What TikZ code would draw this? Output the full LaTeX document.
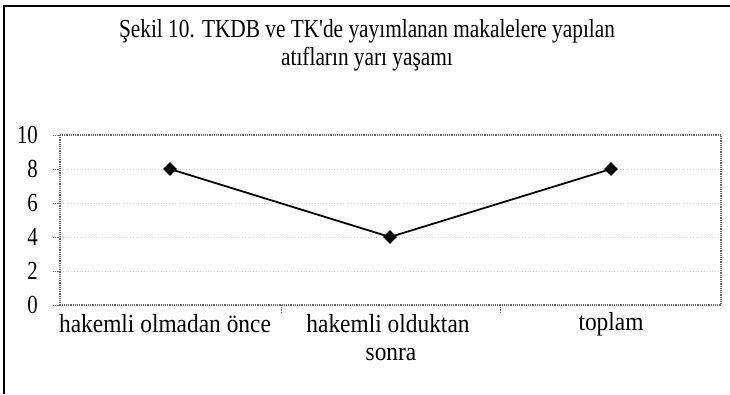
\documentclass[tikz,border=0pt]{standalone}
\usepackage{fontspec}
\setmainfont{Liberation Serif}
\newfontfamily\ttlfont[FakeStretch=0.82]{Liberation Serif}
\newfontfamily\axfont[FakeStretch=0.9]{Liberation Serif}
\newfontfamily\numfont[FakeStretch=0.8]{Liberation Serif}
\usetikzlibrary{shapes.geometric}
\begin{document}
\begin{tikzpicture}[x=1pt,y=-1pt,
  ttl/.style={font=\ttlfont\fontsize{26}{28}\selectfont, inner sep=0pt},
  axl/.style={font=\axfont\fontsize{26}{28}\selectfont, inner sep=0pt},
  ylab/.style={font=\numfont\fontsize{26}{28}\selectfont, inner sep=0pt, anchor=east},
  plotframe/.style={draw=black!60, densely dotted, line width=1.2pt},
  gridl/.style={draw=black!15, dotted, line width=0.8pt},
  tickl/.style={draw=black!50, densely dotted, line width=0.8pt},
  dataline/.style={draw=black, line width=1.8pt},
  dmark/.style={diamond, fill=black, inner sep=0pt, minimum width=14pt, minimum height=14pt}]
\useasboundingbox (0,0) rectangle (730,394);
% outer frame (left and top edges)
\draw[line width=2pt] (4,394) -- (4,6) -- (730,6);
% title
\node[ttl] (t1) at (367,31) {Şekil 10. TKDB ve TK'de yayımlanan makalelere yapılan};
\node[ttl] (t2) at (367,59) {atıfların yarı yaşamı};
% gridlines
\foreach \v in {2,4,6,8} {
  \draw[gridl] (60,{305-17*\v}) -- (721,{305-17*\v});
}
% plot frame
\draw[plotframe] (60,135) rectangle (721,305);
% y ticks and labels
\foreach \v in {0,2,4,6,8,10} {
  \draw[tickl] (53,{305-17*\v}) -- (60,{305-17*\v});
  \node[ylab] (y\v) at (38,{305-17*\v}) {\v};
}
% x ticks
\draw[tickl] (281,305) -- (281,314);
\draw[tickl] (500,305) -- (500,314);
% data
\node[dmark] (p1) at (170,169) {};
\node[dmark] (p2) at (390,237) {};
\node[dmark] (p3) at (611,169) {};
\draw[dataline] (p1.center) -- (p2.center) -- (p3.center);
% x labels
\node[axl] (c1) at (165,324) {hakemli olmadan önce};
\node[axl] (c2) at (388,324) {hakemli olduktan};
\node[axl] (c2b) at (391,354) {sonra};
\node[axl] (c3) at (611,324) {toplam};
\end{tikzpicture}
\end{document}
